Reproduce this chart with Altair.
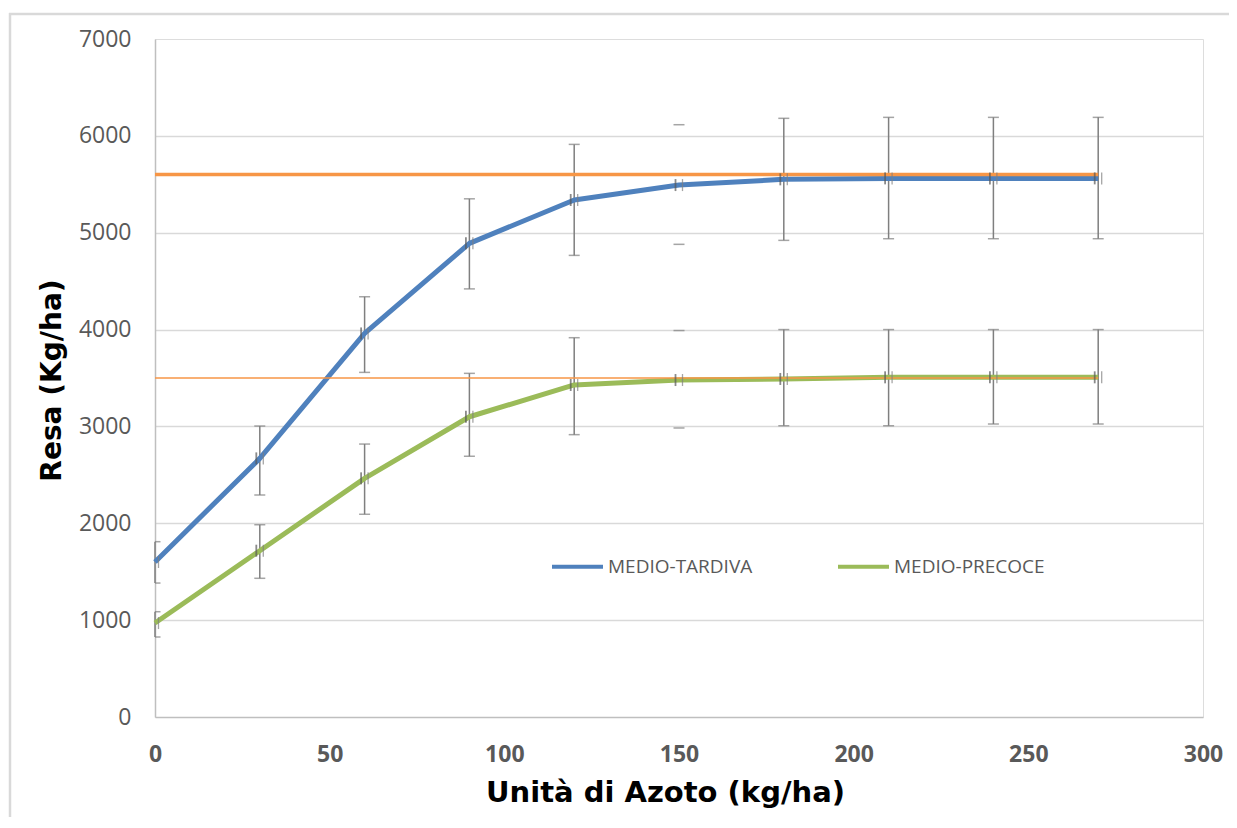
import altair as alt
import pandas as pd

# ---- data ----
azoto = [0, 30, 60, 90, 120, 150, 180, 210, 240, 270]

tardiva = [1600, 2670, 3960, 4890, 5338, 5492, 5551, 5561, 5561, 5561]
tardiva_lo = [1383, 2292, 3558, 4420, 4766, 4880, 4921, 4938, 4938, 4938]
tardiva_hi = [1810, 3004, 4339, 5350, 5912, 6115, 6181, 6191, 6191, 6191]

precoce = [970, 1717, 2464, 3100, 3428, 3479, 3490, 3507, 3507, 3507]
precoce_lo = [826, 1432, 2093, 2692, 2915, 2984, 3007, 3007, 3025, 3025]
precoce_hi = [1087, 1985, 2818, 3548, 3916, 3990, 4000, 4000, 4000, 4000]

x_err = [1, 1, 1, 1, 1, 1, 1, 1, 1, 1]
bar_drawn = [1, 1, 1, 1, 1, 0, 1, 1, 1, 1]

plateau_x = [0, 270]
plateau_tardiva = [5600, 5600]
plateau_precoce = [3500, 3500]

series_names = ["MEDIO-TARDIVA", "MEDIO-PRECOCE"]
series_colors = ["#4f81bd", "#9bbb59"]
orange = "#f79646"
err_color = "#7f7f7f"

# ---- tables ----
rows = []
for name, vals, lo, hi in [
    (series_names[0], tardiva, tardiva_lo, tardiva_hi),
    (series_names[1], precoce, precoce_lo, precoce_hi),
]:
    for i, xv in enumerate(azoto):
        rows.append(dict(serie=name, x=xv, y=vals[i], lo=lo[i], hi=hi[i],
                         xl=xv - x_err[i], xr=xv + x_err[i], drawn=bar_drawn[i]))
df = pd.DataFrame(rows)

plat = pd.DataFrame(
    [dict(g="t", x=plateau_x[i], y=plateau_tardiva[i]) for i in range(2)]
    + [dict(g="p", x=plateau_x[i], y=plateau_precoce[i]) for i in range(2)]
)

W, H = 1048, 678

xscale = alt.Scale(domain=[0, 300], nice=False)
yscale = alt.Scale(domain=[0, 7000], nice=False)

xaxis = alt.Axis(
    values=[0, 50, 100, 150, 200, 250, 300], grid=False, ticks=False, tickSize=0,
    domainColor="#bfbfbf", domainWidth=1.5,
    labelFont="Open Sans", labelFontSize=23, labelFontWeight="bold", labelColor="#595959",
    labelPadding=26, labelFlush=False, format="d",
    title="Unità di Azoto (kg/ha)", titleFont="DejaVu Sans", titleFontSize=29,
    titleFontWeight="bold", titleColor="#000000",
    titleBaseline="alphabetic", titleAlign="center", titleX=510, titleY=84,
)
yaxis = alt.Axis(
    values=[0, 1000, 2000, 3000, 4000, 5000, 6000, 7000], ticks=False, tickSize=0,
    domainColor="#bfbfbf", domainWidth=1.5, format="d",
    grid=True, gridColor="#d9d9d9", gridWidth=1.5,
    gridOpacity={"expr": "datum.value == 7000 || datum.value == 0 ? 0 : 1"},
    labelFont="Open Sans", labelFontSize=23, labelColor="#595959", labelPadding=24,
    title="Resa (Kg/ha)", titleFont="DejaVu Sans", titleFontSize=28,
    titleFontWeight="bold", titleColor="#000000",
    titleBaseline="alphabetic", titleAlign="center", titleAngle=-90,
    titleX=-95, titleY=341,
)

base = alt.Chart(df)
one = pd.DataFrame({"a": [0]})

frame_left = alt.Chart(one).mark_rule(color="#d9d9d9", strokeWidth=2.5).encode(
    x=alt.value(-145), y=alt.value(-26), y2=alt.value(H + 200),
)
frame_top = alt.Chart(one).mark_rule(color="#d9d9d9", strokeWidth=2.5).encode(
    x=alt.value(-146), x2=alt.value(W + 200), y=alt.value(-25),
)

err_lines = base.transform_filter("datum.drawn == 1").mark_rule(
    color=err_color, strokeWidth=1.5
).encode(
    x=alt.X("x:Q", scale=xscale, axis=xaxis),
    y=alt.Y("lo:Q", scale=yscale, axis=yaxis),
    y2="hi:Q",
)
cap_lo = base.mark_tick(orient="horizontal", size=11, thickness=1.5, color=err_color,
                        clip=True).encode(
    x=alt.X("x:Q", scale=xscale), y=alt.Y("lo:Q", scale=yscale)
)
cap_hi = base.mark_tick(orient="horizontal", size=11, thickness=1.5, color=err_color,
                        clip=True).encode(
    x=alt.X("x:Q", scale=xscale), y=alt.Y("hi:Q", scale=yscale)
)

lines = base.mark_line(strokeWidth=5, strokeCap="butt", strokeJoin="round").encode(
    x=alt.X("x:Q", scale=xscale),
    y=alt.Y("y:Q", scale=yscale),
    color=alt.Color(
        "serie:N",
        scale=alt.Scale(domain=series_names, range=series_colors),
        sort=series_names,
        legend=alt.Legend(
            title=None, orient="none", legendX=395, legendY=500, direction="horizontal",
            symbolType="stroke", symbolSize=2600, symbolStrokeWidth=4,
            labelFont="Open Sans", labelFontSize=19, labelColor="#595959",
            labelOffset=3, columnPadding=77,
        ),
    ),
    detail="serie:N",
)

plat_t = alt.Chart(plat).transform_filter("datum.g == 't'").mark_line(
    color=orange, strokeWidth=3.5
).encode(x=alt.X("x:Q", scale=xscale), y=alt.Y("y:Q", scale=yscale))
plat_p = alt.Chart(plat).transform_filter("datum.g == 'p'").mark_line(
    color=orange, strokeWidth=1.5
).encode(x=alt.X("x:Q", scale=xscale), y=alt.Y("y:Q", scale=yscale))

xe_l = base.mark_tick(orient="vertical", size=12, thickness=1.8, color="#595959",
                      clip=True).encode(
    x=alt.X("xl:Q", scale=xscale), y=alt.Y("y:Q", scale=yscale)
)
xe_r = base.mark_tick(orient="vertical", size=12, thickness=1.3, color="#7f7f7f",
                      clip=True).encode(
    x=alt.X("xr:Q", scale=xscale), y=alt.Y("y:Q", scale=yscale)
)

chart = alt.layer(
    frame_left, frame_top, err_lines, cap_lo, cap_hi, lines, plat_t, plat_p, xe_l, xe_r
).properties(
    width=W, height=H,
    autosize=alt.AutoSizeParams(type="none"),
    padding={"left": 147, "top": 31, "right": 26, "bottom": 100},
).configure_view(stroke=None).configure(background="white")

chart.save("out.html", embed_options={"renderer": "svg", "actions": False})
